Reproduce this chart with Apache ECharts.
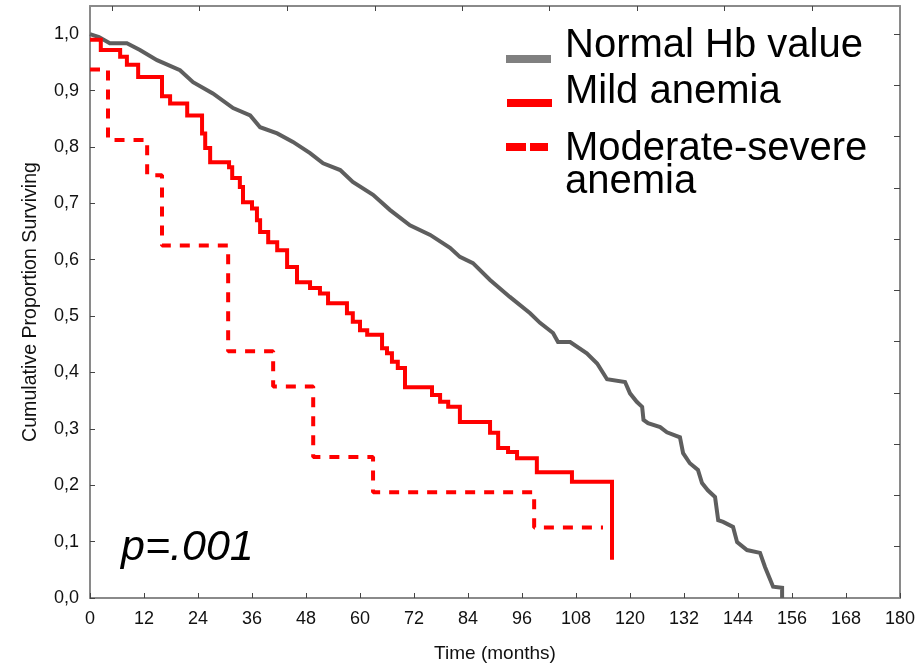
<!DOCTYPE html>
<html><head><meta charset="utf-8">
<script src="https://cdn.jsdelivr.net/npm/echarts@6/dist/echarts.min.js"></script>
<style>html,body{margin:0;padding:0;background:#fff}#c{width:919px;height:667px}</style>
</head><body><div id="c"></div><script>
// ---- data (months, cumulative proportion surviving) ----
const normalT = [0, 2, 4.4, 8.2, 11.1, 14.9, 20, 22.9, 27.3, 31.8, 35.6, 37.8, 41.6, 45.1, 48.9, 51.8, 55.6, 58.4, 62.9, 66.7, 71.1, 75.6, 80, 82.2, 85.1, 88.9, 93.3, 97.8, 100, 102.9, 104, 106.7, 110.4, 112.7, 114.9, 118.9, 120, 121.5, 122.7, 123, 124, 126.7, 128.2, 131.1, 131.8, 133.3, 135.1, 136, 137.3, 138.9, 139.6, 140.7, 142.9, 143.8, 146, 148.9, 150, 151.8, 153.8, 153.8];
const normalS = [1.0, 0.995, 0.984, 0.984, 0.972, 0.954, 0.936, 0.915, 0.895, 0.869, 0.856, 0.835, 0.824, 0.809, 0.789, 0.771, 0.759, 0.738, 0.715, 0.688, 0.661, 0.644, 0.621, 0.605, 0.594, 0.564, 0.534, 0.505, 0.488, 0.47, 0.454, 0.454, 0.434, 0.416, 0.388, 0.383, 0.363, 0.348, 0.339, 0.316, 0.31, 0.303, 0.294, 0.285, 0.257, 0.239, 0.227, 0.204, 0.191, 0.179, 0.138, 0.135, 0.126, 0.099, 0.085, 0.08, 0.055, 0.02, 0.018, 0.0];

const mildT = [0, 2.4, 6.7, 8.2, 10.7, 16, 17.8, 21.6, 24.9, 25.6, 26.7, 30.9, 31.6, 33.3, 34, 36, 37.1, 37.8, 39.6, 41.6, 43.8, 46, 48.9, 51.1, 52.9, 57.1, 58.4, 60, 61.6, 64.9, 66, 67.1, 68.4, 70, 76, 77.8, 79.6, 82.2, 88.9, 90.7, 92.9, 94.9, 99.3, 107.1, 116];
const mildS = [0.99, 0.972, 0.96, 0.946, 0.924, 0.89, 0.877, 0.856, 0.824, 0.798, 0.773, 0.764, 0.745, 0.729, 0.702, 0.691, 0.67, 0.649, 0.631, 0.617, 0.587, 0.56, 0.55, 0.54, 0.523, 0.505, 0.49, 0.475, 0.467, 0.443, 0.434, 0.419, 0.408, 0.374, 0.36, 0.348, 0.339, 0.312, 0.293, 0.266, 0.259, 0.248, 0.223, 0.206, 0.068];

const modT = [0, 4, 12.7, 16, 30.7, 40.7, 49.6, 62.9, 98.7, 114];
const modS = [0.9375, 0.8125, 0.75, 0.625, 0.4375, 0.375, 0.25, 0.1875, 0.125, 0.125];

const seriesNames = ['Normal Hb value', 'Mild anemia', 'Moderate-severe anemia'];
const yTickValues = [0, 0.1, 0.2, 0.3, 0.4, 0.5, 0.6, 0.7, 0.8, 0.9, 1.0];
const xTitle = 'Time (months)';
const yTitle = 'Cumulative Proportion Surviving';
const pText = 'p=.001';

const zip = (a, b) => a.map((t, i) => [t, b[i]]);
const FONT = '"Liberation Sans", Arial, sans-serif';
const axisCol = '#8a8a8a';
const tickCol = '#444';

const topTicks = [4.9, 24.3, 43.8, 63.3, 82.7, 102.0, 121.6, 141.0, 160.6];
const rightTicks = [1,2,3,4,5,6,7,8,9,10,11].map(k => k / 11);

const chart = echarts.init(document.getElementById('c'), null, {renderer: 'canvas'});
chart.setOption({
  animation: false,
  backgroundColor: '#fff',
  grid: {left: 90, right: 19, top: 6, bottom: 69, containLabel: false, outerBoundsMode: 'none'},
  xAxis: [{
    type: 'value', position: 'bottom', min: 0, max: 180, interval: 12,
    axisLine: {show: true, onZero: false, lineStyle: {color: axisCol, width: 2}},
    axisTick: {show: true, inside: true, length: 5, lineStyle: {color: tickCol, width: 1}},
    axisLabel: {fontSize: 18, color: '#111', fontFamily: FONT, margin: 12},
    splitLine: {show: false},
    name: xTitle, nameLocation: 'middle', nameGap: 46,
    nameTextStyle: {fontSize: 19, color: '#111', fontFamily: FONT}
  }, {
    type: 'value', position: 'top', min: 0, max: 180,
    axisLine: {show: true, onZero: false, lineStyle: {color: axisCol, width: 2}},
    axisTick: {show: true, inside: true, length: 5, customValues: topTicks, lineStyle: {color: tickCol, width: 1}},
    axisLabel: {show: false},
    splitLine: {show: false}
  }],
  yAxis: [{
    type: 'value', position: 'left', min: 0, max: 1.05, interval: 0.1,
    axisLine: {show: true, onZero: false, lineStyle: {color: axisCol, width: 2}},
    axisTick: {show: true, inside: true, length: 5, customValues: yTickValues, lineStyle: {color: tickCol, width: 1}},
    axisLabel: {fontSize: 18, color: '#111', fontFamily: FONT, margin: 11, customValues: yTickValues,
      formatter: v => v > 1.001 ? '' : v.toFixed(1).replace('.', ',')},
    splitLine: {show: false},
    name: yTitle, nameLocation: 'middle', nameGap: 49, nameRotate: 90,
    nameTextStyle: {fontSize: 19.6, color: '#111', fontFamily: FONT}
  }, {
    type: 'value', position: 'right', min: 0, max: 1.05,
    axisLine: {show: true, onZero: false, lineStyle: {color: axisCol, width: 2}},
    axisTick: {show: true, inside: true, length: 6, customValues: rightTicks, lineStyle: {color: tickCol, width: 1}},
    axisLabel: {show: false},
    splitLine: {show: false}
  }],
  series: [{
    type: 'line', name: seriesNames[0], data: zip(normalT, normalS),
    showSymbol: false, symbol: 'none', z: 2,
    lineStyle: {color: '#5e5e5e', width: 4, join: 'miter'}
  }, {
    type: 'line', name: seriesNames[1], step: 'end', data: zip(mildT, mildS),
    showSymbol: false, symbol: 'none', z: 3,
    lineStyle: {color: '#ff0000', width: 4, join: 'miter', cap: 'butt'}
  }, {
    type: 'line', name: seriesNames[2], step: 'end', data: zip(modT, modS),
    showSymbol: false, symbol: 'none', z: 3,
    lineStyle: {color: '#ff0000', width: 4, type: [10, 9], cap: 'butt'}
  }],
  graphic: [
    {type: 'line', shape: {x1: 506, y1: 59, x2: 551, y2: 59}, style: {stroke: '#808080', lineWidth: 8}},
    {type: 'line', shape: {x1: 507, y1: 103, x2: 552, y2: 103}, style: {stroke: '#ff0000', lineWidth: 8}},
    {type: 'line', shape: {x1: 506, y1: 147, x2: 548, y2: 147}, style: {stroke: '#ff0000', lineWidth: 8, lineDash: [20, 4]}},
    {type: 'text', x: 565, y: 46, style: {text: seriesNames[0], font: '40px ' + FONT, fill: '#000', verticalAlign: 'middle'}},
    {type: 'text', x: 565, y: 92, style: {text: seriesNames[1], font: '40px ' + FONT, fill: '#000', verticalAlign: 'middle'}},
    {type: 'text', x: 565, y: 149, style: {text: 'Moderate-severe', font: '40px ' + FONT, fill: '#000', verticalAlign: 'middle'}},
    {type: 'text', x: 565, y: 182, style: {text: 'anemia', font: '40px ' + FONT, fill: '#000', verticalAlign: 'middle'}},
    {type: 'text', x: 121, y: 548, style: {text: pText, font: 'italic 43px ' + FONT, fill: '#000', verticalAlign: 'middle'}}
  ]
});
</script></body></html>
